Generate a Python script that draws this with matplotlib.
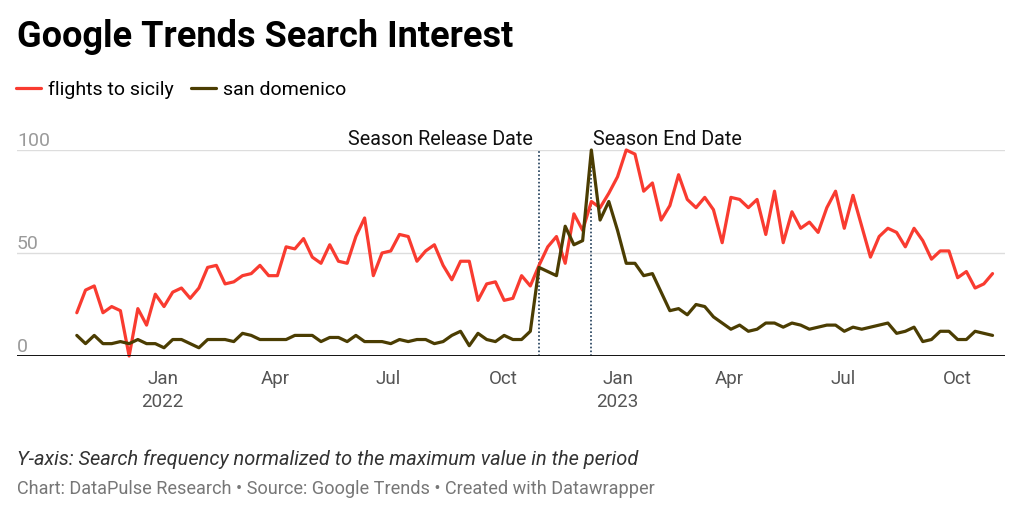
import numpy as np
import pandas as pd
import matplotlib
matplotlib.use("Agg")
import matplotlib.pyplot as plt
import matplotlib.transforms as mtransforms

plt.rcParams['font.family'] = ['Roboto', 'DejaVu Sans']

# weekly Google Trends values, starting 2021-10-24
start_date = '2021-10-24'
flights_to_sicily = [21, 32, 34, 21, 24, 22, 0, 23, 15, 30, 24, 31, 33, 28, 33, 43, 44, 35, 36, 39,
                     40, 44, 39, 39, 53, 52, 57, 48, 45, 54, 46, 45, 58, 67, 39, 50, 51, 59, 58, 46,
                     51, 54, 44, 37, 46, 46, 27, 35, 36, 27, 28, 39, 34, 44, 53, 58, 45, 69, 61, 75,
                     72, 79, 87, 100, 98, 80, 84, 66, 73, 88, 76, 72, 77, 71, 55, 77, 76, 72, 76, 59,
                     80, 55, 70, 62, 65, 60, 72, 80, 62, 78, 63, 48, 58, 62, 60, 53, 62, 56, 47, 51,
                     51, 38, 41, 33, 35, 40]
san_domenico = [10, 6, 10, 6, 6, 7, 6, 8, 6, 6, 4, 8, 8, 6, 4, 8, 8, 8, 7, 11,
                10, 8, 8, 8, 8, 10, 10, 10, 7, 9, 9, 7, 10, 7, 7, 7, 6, 8, 7, 8,
                8, 6, 7, 10, 12, 5, 11, 8, 7, 10, 8, 8, 12, 43, 41, 39, 63, 54, 56, 100,
                66, 75, 61, 45, 45, 39, 40, 31, 22, 23, 20, 25, 24, 19, 16, 13, 15, 12, 13, 16,
                16, 14, 16, 15, 13, 14, 15, 15, 12, 14, 13, 14, 15, 16, 11, 12, 14, 7, 8, 12,
                12, 8, 8, 12, 11, 10]
series_names = ['flights to sicily', 'san domenico']
series_colors = ['#f93b30', '#4b3d02']

tick_dates = ['2022-01-01', '2022-04-01', '2022-07-01', '2022-10-01',
              '2023-01-01', '2023-04-01', '2023-07-01', '2023-10-01']
tick_labels = ['Jan\n2022', 'Apr', 'Jul', 'Oct', 'Jan\n2023', 'Apr', 'Jul', 'Oct']
y_ticks = [0, 50, 100]

events = ['2022-10-30', '2022-12-11']
event_labels = ['Season Release Date', 'Season End Date']

dates = pd.date_range(start_date, periods=len(flights_to_sicily), freq='7D')

fig = plt.figure(figsize=(10.24, 5.17), dpi=100)
W, H = 1024, 517
ax = fig.add_axes([17 / W, 1 - 356 / H, (1005 - 17) / W, (356 - 150) / H])

ax.plot(dates, flights_to_sicily, color=series_colors[0], lw=2.3,
        solid_joinstyle='round', solid_capstyle='round', clip_on=False, zorder=3,
        label=series_names[0])
ax.plot(dates, san_domenico, color=series_colors[1], lw=2.3,
        solid_joinstyle='round', solid_capstyle='round', clip_on=False, zorder=4,
        label=series_names[1])

ax.set_xlim(pd.Timestamp('2021-09-06'), pd.Timestamp('2023-11-08'))
ax.set_ylim(0, 100)

for s in ax.spines.values():
    s.set_visible(False)

# grid + labels sitting above the lines
trans = mtransforms.blended_transform_factory(ax.transAxes, ax.transData)
for v in y_ticks:
    if v == 0:
        ax.axhline(0, color='#111111', lw=1.4, zorder=5)
    else:
        ax.axhline(v, color='#dddddd', lw=1, zorder=1)
    ax.text(0, v, str(v), transform=trans, ha='left', va='bottom', fontsize=14,
            color='#9a9a9a')

ax.set_yticks([])
ax.set_xticks(pd.to_datetime(tick_dates))
ax.set_xticklabels(tick_labels, fontsize=13.5, color='#555555', linespacing=1.4)
ax.tick_params(axis='x', length=0, pad=10)

# event markers
for d, lab, side in zip(events, event_labels, ['right', 'left']):
    d = pd.Timestamp(d)
    ax.plot([d, d], [0, 100], color='#1d3b58', lw=1.2, ls=(0, (1, 1.3)), zorder=2)
    off = -4.5 if side == 'right' else 1.5
    ax.annotate(lab, xy=(d, 100), xytext=(off, 1), textcoords='offset points',
                ha=side, va='bottom', fontsize=14.2, color='#111111')

# legend
fig.legend(loc='upper left', bbox_to_anchor=(16 / W, 1 - 81 / H), ncol=2, frameon=False,
           fontsize=14, handlelength=1.3, handletextpad=0.33, columnspacing=0.9,
           borderaxespad=0, borderpad=0)

fig.text(17 / W, 1 - 47 / H, 'Google Trends Search Interest', fontsize=26, fontweight='bold',
         ha='left', va='baseline', color='#000000')
fig.text(17 / W, 1 - 465 / H, 'Y-axis: Search frequency normalized to the maximum value in the period',
         fontsize=14.4, style='italic', color='#333333', ha='left', va='baseline')
fig.text(17 / W, 1 - 494 / H,
         'Chart: DataPulse Research \u2022 Source: Google Trends \u2022 Created with Datawrapper',
         fontsize=13.1, color='#777777', ha='left', va='baseline')

fig.savefig('out.png', dpi=100, facecolor='white')
